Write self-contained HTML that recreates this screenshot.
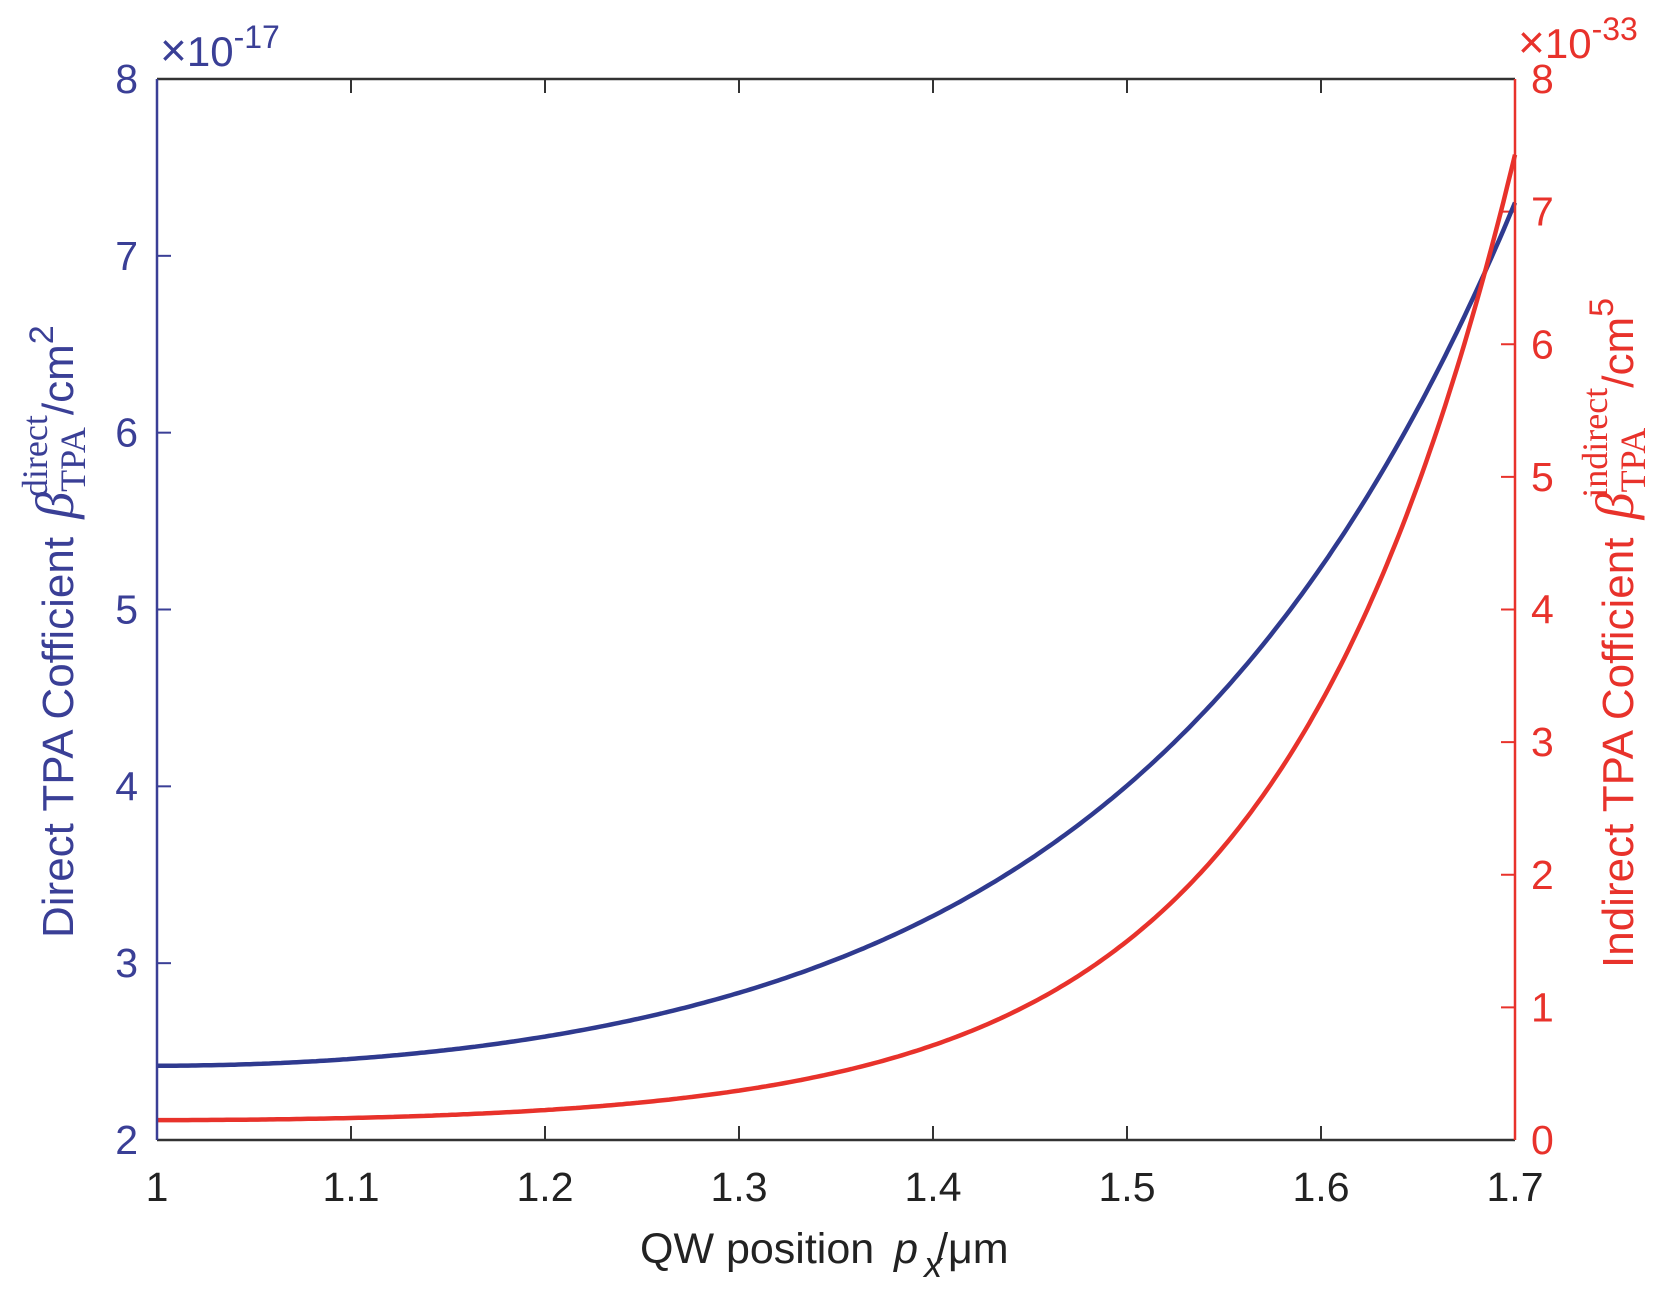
<!DOCTYPE html>
<html><head><meta charset="utf-8"><style>body{margin:0;background:#fff}svg{display:block}</style></head>
<body>
<svg id="s" width="1667" height="1299" xmlns="http://www.w3.org/2000/svg" font-family="Liberation Sans, Arial, sans-serif">
<rect width="1667" height="1299" fill="#fff"/>
<g id="ticks"></g>
<path id="blue" fill="none" stroke="#2f3a8f" stroke-width="4.5"/>
<path id="red" fill="none" stroke="#e8322b" stroke-width="4.5"/>
<line x1="157" y1="79" x2="1515" y2="79" stroke="#333" stroke-width="2.5"/>
<line x1="157" y1="1140" x2="1515" y2="1140" stroke="#333" stroke-width="2.5"/>
<line x1="157" y1="79" x2="157" y2="1140" stroke="#3a3f96" stroke-width="2.5"/>
<line x1="1515" y1="79" x2="1515" y2="1140" stroke="#e8322b" stroke-width="2.5"/>
<g id="labels" font-size="41"></g>
<text x="160" y="66" font-size="42" fill="#3a3f96"><tspan font-size="46">×</tspan>10<tspan dy="-18" font-size="32">-17</tspan></text>
<text x="1518" y="58" font-size="42" fill="#e8322b"><tspan font-size="46">×</tspan>10<tspan dy="-18" font-size="32">-33</tspan></text>
<text x="640" y="1263" font-size="43" fill="#222">QW position  <tspan font-style="italic" dx="8">p</tspan><tspan font-style="italic" dy="14" font-size="36" dx="6">x</tspan><tspan dy="-14" dx="-6">/μm</tspan></text>
<text transform="translate(73,938) rotate(-90)" font-size="44" fill="#3a3f96">Direct TPA Cofficient  <tspan font-family="Liberation Serif, serif" font-style="italic" font-size="54" dx="6">β</tspan><tspan font-family="Liberation Serif, serif" font-size="36" dy="12">TPA</tspan><tspan font-family="Liberation Serif, serif" font-size="36" dx="-70" dy="-38">direct</tspan><tspan dy="26">/cm</tspan><tspan dy="-20" font-size="34">2</tspan></text>
<text transform="translate(1633,968) rotate(-90)" font-size="44" fill="#e8322b">Indirect TPA Cofficient  <tspan font-family="Liberation Serif, serif" font-style="italic" font-size="54" dx="6">β</tspan><tspan font-family="Liberation Serif, serif" font-size="36" dy="12">TPA</tspan><tspan font-family="Liberation Serif, serif" font-size="36" dx="-70" dy="-38">indirect</tspan><tspan dy="26">/cm</tspan><tspan dy="-20" font-size="34">5</tspan></text>
</svg>
<script>
var L=157,R=1515,T=79,B=1140,W=R-L,H=B-T;
function X(x){return L+(x-1)/0.7*W}
function YL(v){return B-(v-2)/6*H}
function YR(v){return B-v/8*H}
function fb(x){return 2.42+0.291*(Math.cosh(5.1*(x-1))-1)}
function fr(x){return 0.15+0.0439*(Math.cosh(8.3*(x-1))-1)}
var pb="",pr="";
for(var i=0;i<=350;i++){var x=1+0.7*i/350;
pb+=(i?"L":"M")+X(x).toFixed(1)+","+YL(fb(x)).toFixed(1);
pr+=(i?"L":"M")+X(x).toFixed(1)+","+YR(fr(x)).toFixed(1);}
document.getElementById("blue").setAttribute("d",pb);
document.getElementById("red").setAttribute("d",pr);
var t="",lb="";
for(var k=0;k<=7;k++){var xx=X(1+k/10);
t+='<line x1="'+xx+'" y1="'+B+'" x2="'+xx+'" y2="'+(B-14)+'" stroke="#333" stroke-width="2"/>';
t+='<line x1="'+xx+'" y1="'+T+'" x2="'+xx+'" y2="'+(T+14)+'" stroke="#333" stroke-width="2"/>';
lb+='<text x="'+xx+'" y="1201" text-anchor="middle" fill="#222">'+(k==0?"1":k==7?"1.7":(1+k/10).toFixed(1))+'</text>';}
for(var v=2;v<=8;v++){var y=YL(v);
t+='<line x1="'+L+'" y1="'+y+'" x2="'+(L+14)+'" y2="'+y+'" stroke="#3a3f96" stroke-width="2"/>';
lb+='<text x="138" y="'+(y+14)+'" text-anchor="end" fill="#3a3f96">'+v+'</text>';}
for(var v=0;v<=8;v++){var y=YR(v);
t+='<line x1="'+R+'" y1="'+y+'" x2="'+(R-14)+'" y2="'+y+'" stroke="#e8322b" stroke-width="2"/>';
lb+='<text x="1531" y="'+(y+14)+'" fill="#e8322b">'+v+'</text>';}
document.getElementById("ticks").innerHTML=t;
document.getElementById("labels").innerHTML=lb;
</script>
</body></html>
